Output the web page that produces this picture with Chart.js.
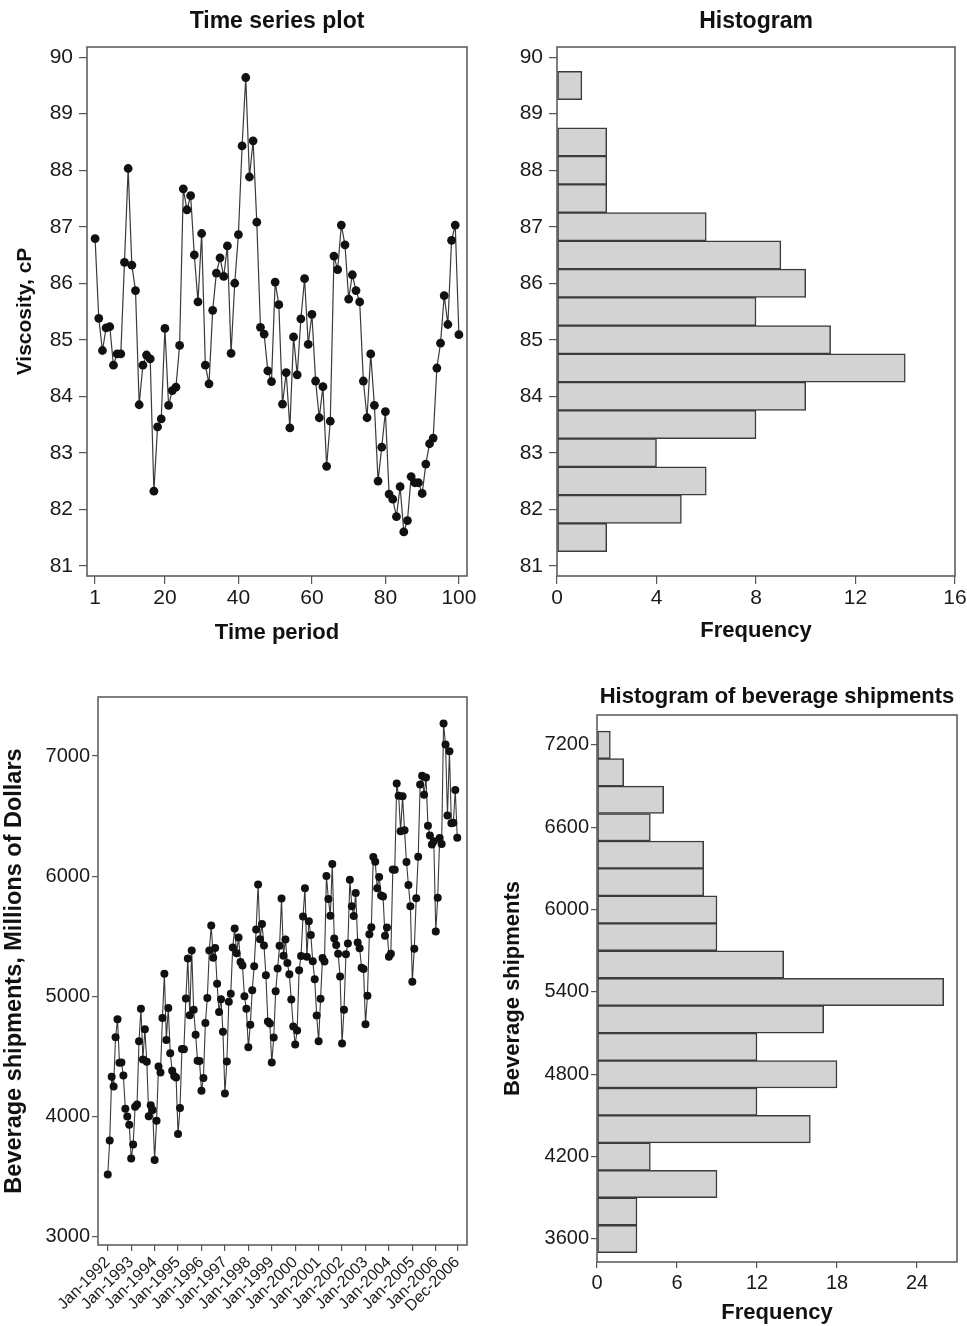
<!DOCTYPE html>
<html>
<head>
<meta charset="utf-8">
<title>Viscosity and beverage shipments</title>
<script src="https://cdn.jsdelivr.net/npm/chart.js@4.4.0/dist/chart.umd.min.js"></script>
<style>
  html, body { margin: 0; padding: 0; background: #fff; }
  #page { position: relative; width: 967px; height: 1326px; overflow: hidden; }
  canvas { position: absolute; }
</style>
</head>
<body>
<div id="page">
  <canvas id="viscSeries" width="483" height="660" style="left:0;top:0"></canvas>
  <canvas id="viscHist" width="484" height="660" style="left:483px;top:0"></canvas>
  <canvas id="shipSeries" width="483" height="666" style="left:0;top:660px"></canvas>
  <canvas id="shipHist" width="484" height="666" style="left:483px;top:660px"></canvas>
</div>
<script>
// viscosity, periods 1..100
const viscosity = [
  86.79, 85.38, 84.81, 85.21, 85.23, 84.55, 84.75, 84.75, 86.37, 88.03,
  86.32, 85.87, 83.85, 84.55, 84.73, 84.66, 82.32, 83.46, 83.60, 85.20,
  83.84, 84.10, 84.16, 84.90, 87.67, 87.30, 87.55, 86.50, 85.67, 86.88,
  84.55, 84.22, 85.52, 86.18, 86.45, 86.12, 86.66, 84.76, 86.00, 86.86,
  88.43, 89.64, 87.88, 88.52, 87.08, 85.22, 85.10, 84.45, 84.26, 86.02,
  85.62, 83.86, 84.42, 83.44, 85.05, 84.38, 85.37, 86.08, 84.92, 85.45,
  84.27, 83.62, 84.17, 82.76, 83.56, 86.48, 86.24, 87.03, 86.68, 85.72,
  86.15, 85.87, 85.67, 84.27, 83.62, 84.75, 83.84, 82.50, 83.10, 83.73,
  82.27, 82.18, 81.87, 82.40, 81.60, 81.80, 82.58, 82.47, 82.47, 82.28,
  82.80, 83.16, 83.26, 84.50, 84.94, 85.78, 85.27, 86.76, 87.03, 85.09
];
const viscPeriodTicks = [1, 20, 40, 60, 80, 100];
const viscValueTicks = [81, 82, 83, 84, 85, 86, 87, 88, 89, 90];

// histogram of viscosity (bin centres, counts)
const viscBins = [81.5, 82, 82.5, 83, 83.5, 84, 84.5, 85, 85.5, 86, 86.5, 87, 87.5, 88, 88.5, 89, 89.5];
const viscCounts = [2, 5, 6, 4, 8, 10, 14, 11, 8, 10, 9, 6, 2, 2, 2, 0, 1];
const viscFreqTicks = [0, 4, 8, 12, 16];

// beverage shipments, Jan-1992 .. Dec-2006 (millions of dollars)
const shipments = [
  3519, 3803, 4332, 4251, 4661, 4811, 4448, 4451, 4343, 4067, 4001, 3934,
  3652, 3768, 4082, 4101, 4628, 4898, 4476, 4728, 4458, 4004, 4095, 4056,
  3641, 3966, 4417, 4367, 4821, 5190, 4638, 4904, 4528, 4383, 4339, 4327,
  3856, 4072, 4563, 4561, 4984, 5316, 4843, 5383, 4889, 4681, 4466, 4463,
  4217, 4322, 4779, 4988, 5383, 5591, 5322, 5404, 5106, 4871, 4977, 4706,
  4193, 4460, 4956, 5022, 5408, 5565, 5360, 5490, 5286, 5257, 5002, 4897,
  4577, 4764, 5052, 5251, 5558, 5931, 5476, 5603, 5425, 5177, 4792, 4776,
  4450, 4659, 5043, 5233, 5423, 5814, 5339, 5474, 5278, 5184, 4975, 4751,
  4600, 4718, 5218, 5336, 5665, 5900, 5330, 5626, 5512, 5293, 5143, 4842,
  4627, 4981, 5321, 5290, 6002, 5811, 5671, 6102, 5482, 5429, 5356, 5167,
  4608, 4889, 5352, 5441, 5970, 5750, 5670, 5860, 5449, 5401, 5240, 5229,
  4770, 5006, 5518, 5576, 6160, 6121, 5900, 5994, 5841, 5832, 5505, 5573,
  5331, 5355, 6057, 6055, 6771, 6669, 6375, 6666, 6383, 6118, 5927, 5750,
  5122, 5398, 5817, 6163, 6763, 6835, 6678, 6821, 6421, 6338, 6265, 6291,
  5540, 5822, 6318, 6268, 7270, 7096, 6505, 7039, 6440, 6446, 6717, 6320
];
const shipMonthTicks = [0, 12, 24, 36, 48, 60, 72, 84, 96, 108, 120, 132, 144, 156, 168, 179];
const shipMonthLabels = ['Jan-1992', 'Jan-1993', 'Jan-1994', 'Jan-1995', 'Jan-1996', 'Jan-1997',
  'Jan-1998', 'Jan-1999', 'Jan-2000', 'Jan-2001', 'Jan-2002', 'Jan-2003', 'Jan-2004',
  'Jan-2005', 'Jan-2006', 'Dec-2006'];
const shipValueTicks = [3000, 4000, 5000, 6000, 7000];

// histogram of shipments
const shipBins = [3600, 3800, 4000, 4200, 4400, 4600, 4800, 5000, 5200, 5400,
  5600, 5800, 6000, 6200, 6400, 6600, 6800, 7000, 7200];
const shipCounts = [3, 3, 9, 4, 16, 12, 18, 12, 17, 26, 14, 9, 9, 8, 8, 4, 5, 2, 1];
const shipBinTicks = [3600, 4200, 4800, 5400, 6000, 6600, 7200];
const shipFreqTicks = [0, 6, 12, 18, 24];

Chart.defaults.font.family = '"Liberation Sans", Arial, Helvetica, sans-serif';
Chart.defaults.color = '#1a1a1a';

// box round the plot area
const framePlugin = {
  id: 'frame',
  afterDraw(chart) {
    const { ctx, chartArea: a } = chart;
    ctx.save();
    ctx.strokeStyle = '#555';
    ctx.lineWidth = 1.5;
    ctx.strokeRect(a.left, a.top, a.right - a.left, a.bottom - a.top);
    ctx.restore();
  }
};

function ticksAt(values) {
  return scale => { scale.ticks = values.map(v => ({ value: v })); };
}

function fixSize(size) {
  return scale => {
    if (scale.isHorizontal()) scale.height = size; else scale.width = size;
    scale.paddingLeft = 0; scale.paddingRight = 0;
    scale.paddingTop = 0; scale.paddingBottom = 0;
  };
}

const plain = v => String(v);

function tickGrid(len) {
  return { display: true, drawOnChartArea: false, drawTicks: true, tickLength: len, color: '#555', lineWidth: 1.2, offset: false };
}

function axisTitle(text, size, padding) {
  return { display: true, text: text, color: '#111', font: { size: size, weight: 'bold', lineHeight: 1.2 }, padding: padding };
}

function plotTitle(text, size, padding) {
  return { display: true, text: text, fullSize: false, color: '#111', font: { size: size, weight: 'bold', lineHeight: 1.2 }, padding: padding };
}

// Time series plot
new Chart(document.getElementById('viscSeries'), {
  type: 'line',
  data: {
    datasets: [{
      data: viscosity.map((v, i) => ({ x: i + 1, y: v })),
      borderColor: '#3a3a3a',
      borderWidth: 1.2,
      pointRadius: 4.4,
      pointBackgroundColor: '#111',
      pointBorderWidth: 0,
      tension: 0
    }]
  },
  options: {
    responsive: false,
    animation: false,
    layout: { padding: { left: 0, right: 16, top: 0, bottom: 0 } },
    plugins: {
      legend: { display: false },
      tooltip: { enabled: false },
      title: plotTitle('Time series plot', 23, { top: 8.2, bottom: 11.2 })
    },
    scales: {
      x: {
        type: 'linear', min: -1.2, max: 102.2,
        afterBuildTicks: ticksAt(viscPeriodTicks),
        afterFit: fixSize(84),
        ticks: { font: { size: 21 }, padding: 1.4, maxRotation: 0, callback: plain },
        grid: tickGrid(8),
        border: { display: false },
        title: axisTitle('Time period', 22, { top: 0, bottom: 13.8 })
      },
      y: {
        type: 'linear', min: 80.82, max: 90.18,
        afterBuildTicks: ticksAt(viscValueTicks),
        afterFit: fixSize(87),
        ticks: { font: { size: 21 }, padding: 6, callback: plain },
        grid: tickGrid(8),
        border: { display: false },
        title: axisTitle('Viscosity, cP', 21, { top: 12.4, bottom: 0 })
      }
    }
  },
  plugins: [framePlugin]
});

// Histogram of viscosity
new Chart(document.getElementById('viscHist'), {
  type: 'bar',
  data: {
    datasets: [{
      data: viscBins.map((b, i) => ({ x: viscCounts[i], y: b })),
      backgroundColor: '#d3d3d3',
      borderColor: '#3c3c3c',
      borderWidth: 1.5,
      borderSkipped: false,
      categoryPercentage: 1,
      barPercentage: 1
    }]
  },
  options: {
    indexAxis: 'y',
    responsive: false,
    animation: false,
    layout: { padding: { left: 0, right: 12, top: 0, bottom: 0 } },
    plugins: {
      legend: { display: false },
      tooltip: { enabled: false },
      title: plotTitle('Histogram', 23, { top: 8.2, bottom: 11.2 })
    },
    scales: {
      x: {
        type: 'linear', min: 0, max: 16,
        afterBuildTicks: ticksAt(viscFreqTicks),
        afterFit: fixSize(84),
        ticks: { font: { size: 21 }, padding: 1.4, maxRotation: 0, callback: plain },
        grid: tickGrid(8),
        border: { display: false },
        title: axisTitle('Frequency', 22, { top: 0, bottom: 15.8 })
      },
      y: {
        type: 'linear', min: 80.82, max: 90.18, offset: false,
        afterBuildTicks: ticksAt(viscValueTicks),
        afterFit: fixSize(74),
        ticks: { font: { size: 21 }, padding: 6, callback: plain },
        grid: tickGrid(8),
        border: { display: false }
      }
    }
  },
  plugins: [framePlugin]
});

// Beverage shipments time series
new Chart(document.getElementById('shipSeries'), {
  type: 'line',
  data: {
    datasets: [{
      data: shipments.map((v, i) => ({ x: i, y: v })),
      borderColor: '#3a3a3a',
      borderWidth: 1.1,
      pointRadius: 4,
      pointBackgroundColor: '#111',
      pointBorderWidth: 0,
      tension: 0
    }]
  },
  options: {
    responsive: false,
    animation: false,
    layout: { padding: { left: 0, right: 16, top: 37, bottom: 0 } },
    plugins: {
      legend: { display: false },
      tooltip: { enabled: false }
    },
    scales: {
      x: {
        type: 'linear', min: -5, max: 184,
        afterBuildTicks: ticksAt(shipMonthTicks),
        afterFit: fixSize(81),
        ticks: {
          font: { size: 16 }, padding: 2, minRotation: 45, maxRotation: 45, autoSkip: false,
          callback: (v, i) => shipMonthLabels[i]
        },
        grid: tickGrid(6),
        border: { display: false }
      },
      y: {
        type: 'linear', min: 2933, max: 7491,
        afterBuildTicks: ticksAt(shipValueTicks),
        afterFit: fixSize(98),
        ticks: { font: { size: 20 }, padding: 2, callback: plain },
        grid: tickGrid(6),
        border: { display: false },
        title: axisTitle('Beverage shipments, Millions of Dollars', 23.5, { top: 0.9, bottom: 0 })
      }
    }
  },
  plugins: [framePlugin]
});

// Histogram of beverage shipments
new Chart(document.getElementById('shipHist'), {
  type: 'bar',
  data: {
    datasets: [{
      data: shipBins.map((b, i) => ({ x: shipCounts[i], y: b })),
      backgroundColor: '#d3d3d3',
      borderColor: '#3c3c3c',
      borderWidth: 1.5,
      borderSkipped: false,
      categoryPercentage: 1,
      barPercentage: 1
    }]
  },
  options: {
    indexAxis: 'y',
    responsive: false,
    animation: false,
    layout: { padding: { left: 0, right: 10, top: 0, bottom: 0 } },
    plugins: {
      legend: { display: false },
      tooltip: { enabled: false },
      title: plotTitle('Histogram of beverage shipments', 22, { top: 23.8, bottom: 4.8 })
    },
    scales: {
      x: {
        type: 'linear', min: 0, max: 27,
        afterBuildTicks: ticksAt(shipFreqTicks),
        afterFit: fixSize(64),
        ticks: { font: { size: 20 }, padding: 3, maxRotation: 0, callback: plain },
        grid: tickGrid(6),
        border: { display: false },
        title: axisTitle('Frequency', 22, { top: 0, bottom: 0 })
      },
      y: {
        type: 'linear', min: 3432, max: 7418, offset: false,
        afterBuildTicks: ticksAt(shipBinTicks),
        afterFit: fixSize(114),
        ticks: { font: { size: 20 }, padding: 2, callback: plain },
        grid: tickGrid(6),
        border: { display: false },
        title: axisTitle('Beverage shipments', 22, { top: 16.8, bottom: 0 })
      }
    }
  },
  plugins: [framePlugin]
});
</script>
</body>
</html>
